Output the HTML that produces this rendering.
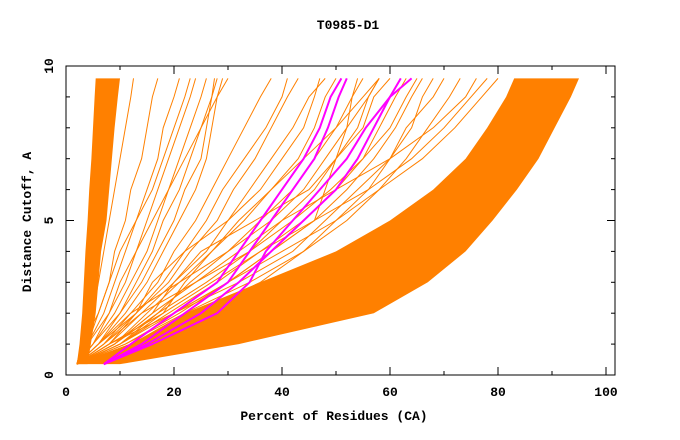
<!DOCTYPE html>
<html><head><meta charset="utf-8"><style>
body{margin:0;background:#fff}
svg{display:block}
text{font-family:"Liberation Mono",monospace;font-weight:bold;font-size:13px;fill:#000}
</style></head><body>
<svg id="c" width="680" height="440" xmlns="http://www.w3.org/2000/svg">
<rect x="0" y="0" width="680" height="440" fill="#fff"/>
<text x="348" y="29" text-anchor="middle">T0985-D1</text>
<text x="334" y="420" text-anchor="middle">Percent of Residues (CA)</text>
<text x="0" y="0" text-anchor="middle" transform="translate(31,222) rotate(-90)">Distance Cutoff, A</text>
<g id="marks"></g>
<g id="axes"></g>
</svg>
<script>
const levels=[0.35,1,2,3,4,5,6,7,8,9,9.6];
const bandLow=[2,12,22,36,50,60,68,74,78,81.5,83];
const bandHigh=[10,32,57,67,74,79,83.5,87.5,90.5,93.5,95];
const leftLow=[2,2.5,3,3.3,3.6,4,4.3,4.7,5,5.3,5.5];
const leftHigh=[4,4.6,5.5,6,6.5,7.5,8,8.5,9,9.6,10];
const orangeLines=[
[2,3,5,6,7,8,9,10,11,12,12.5],
[2,4,6,8,9,11,12,14,15,16,17],
[2,4,7,9,11,13,15,17,18,20,21],
[2,5,8,11,13,15,17,19,21,23,24],
[2,5,9,12,15,17,19,21,23,25,26],
[2,6,10,13,16,18,21,23,25,27,28],
[2,6,11,15,18,21,24,26,27,28,29],
[2,7,12,17,20,24,27,30,33,36,38],
[2,7,13,16,22,26,29,33,37,40,41],
[2,8,13,19,23,28,31,35,38,41,43],
[2,8,14,20,26,30,36,40,44,46,47],
[2,9,15,21,27,33,38,43,46,48,50],
[2,9,17,23,30,36,42,46,50,53,55],
[2,10,17,26,34,40,46,50,54,56,58],
[2,10,19,28,36,44,50,55,58,61,63],
[2,11,21,30,38,46,52,57,61,64,66],
[2,10,20,32,42,48,54,60,63,68,70],
[2,11,22,34,44,52,58,63,67,71,73],
[2,8,18,22,27,32,38,44,50,55,58],
[2,7,14,24,34,42,49,55,60,63,65],
[2,6,13,18,22,30,34,38,42,45,48],
[2,9,16,20,25,35,45,50,55,57,60],
[2,4,8,10,13,16,19,22,25,28,30],
[2,3,6,8,10,13,16,18,20,22,23],
[2,5,10,14,17,20,22,25,26,27,27.5],
[2,8,20,30,38,46,48,50,52,53,54],
[2,12,24,36,44,50,56,60,64,66,68],
[2,6,12,21,30,38,44,48,52,56,58],
[2,12,20,30,40,50,58,66,72,77,80],
[2,10,18,27,36,46,56,64,70,75,78],
[2,9,16,24,32,40,50,60,68,74,76]
];
const magentaLines=[
[7,12,20,28,32,36,40,44,47,49,51],
[7,14,22,30,34,38,42,46,48.5,50.5,52],
[7,15,25,32,38,44,50,54,57,60,62],
[7,16,28,34,37,42,47,52,55.5,60,64]
];
const xTicks=[0,20,40,60,80,100];
const yTicks=[0,5,10];
const NS='http://www.w3.org/2000/svg';
const X0=66,X1=615,Y0=66,Y1=375;
function xs(v){return 66+v*5.4;}
function ys(v){return 375-v*30.9;}
const marks=document.getElementById('marks'),axes=document.getElementById('axes');
function poly(a,b){let p=[];for(let i=0;i<levels.length;i++)p.push(xs(a[i])+','+ys(levels[i]));for(let i=levels.length-1;i>=0;i--)p.push(xs(b[i])+','+ys(levels[i]));return p.join(' ');}
function line(a){return a.map((v,i)=>xs(v)+','+ys(levels[i])).join(' ');}
let p=document.createElementNS(NS,'polygon');p.setAttribute('points',poly(bandLow,bandHigh));p.setAttribute('fill','#ff8000');


marks.appendChild(p);
p=document.createElementNS(NS,'polygon');p.setAttribute('points',poly(leftLow,leftHigh));p.setAttribute('fill','#ff8000');


marks.appendChild(p);
orangeLines.forEach((a,i)=>{const l=document.createElementNS(NS,'polyline');l.setAttribute('points',line(a));l.setAttribute('fill','none');l.setAttribute('stroke','#ff8000');l.setAttribute('stroke-width','1');


marks.appendChild(l);});
magentaLines.forEach((a,i)=>{const l=document.createElementNS(NS,'polyline');l.setAttribute('points',line(a));l.setAttribute('fill','none');l.setAttribute('stroke','#ff00ff');l.setAttribute('stroke-width','2');


marks.appendChild(l);});
let f=document.createElementNS(NS,'rect');f.setAttribute('x',X0);f.setAttribute('y',Y0);f.setAttribute('width',X1-X0);f.setAttribute('height',Y1-Y0);f.setAttribute('fill','none');f.setAttribute('stroke','#000');


axes.appendChild(f);
function tk(x1,y1,x2,y2,name){const t=document.createElementNS(NS,'line');t.setAttribute('x1',x1);t.setAttribute('y1',y1);t.setAttribute('x2',x2);t.setAttribute('y2',y2);t.setAttribute('stroke','#000');


axes.appendChild(t);}
for(let v=0;v<=100;v+=10){const x=xs(v),L=v%20==0?8:4;tk(x,Y1,x,Y1-L,'x-tick');tk(x,Y0,x,Y0+L,'x-tick-top');}
for(let v=0;v<=10;v++){const y=ys(v),L=v%5==0?8:4;tk(X0,y,X0+L,y,'y-tick');tk(X1,y,X1-L,y,'y-tick-right');}
xTicks.forEach(v=>{const t=document.createElementNS(NS,'text');t.setAttribute('x',xs(v));t.setAttribute('y',396);t.setAttribute('text-anchor','middle');t.textContent=v;


axes.appendChild(t);});
yTicks.forEach(v=>{const t=document.createElementNS(NS,'text');t.setAttribute('transform','translate(53,'+ys(v)+') rotate(-90)');t.setAttribute('text-anchor','middle');t.textContent=v;


axes.appendChild(t);});
</script>
</body></html>
